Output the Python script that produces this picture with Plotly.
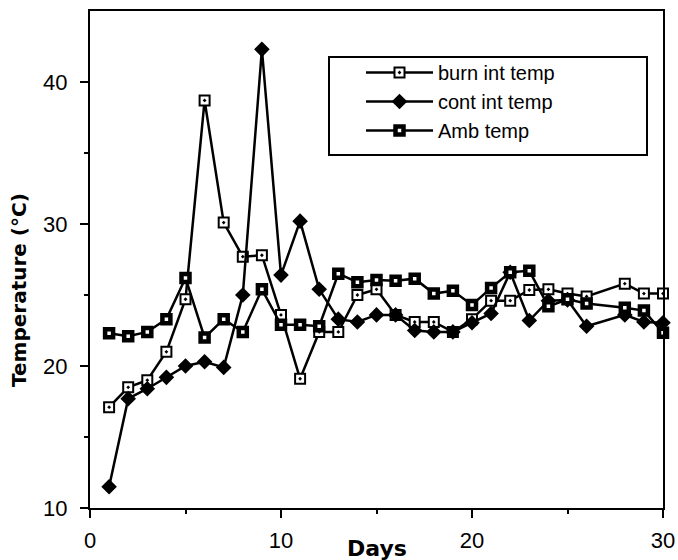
import plotly.graph_objects as go

days = [1, 2, 3, 4, 5, 6, 7, 8, 9, 10, 11, 12, 13, 14, 15, 16, 17, 18, 19, 20,
        21, 22, 23, 24, 25, 26, 28, 29, 30]

burn_int_temp = [17.1, 18.5, 19.0, 21.0, 24.7, 38.7, 30.1, 27.7, 27.8, 23.6,
                 19.1, 22.4, 22.4, 25.0, 25.4, 23.6, 23.1, 23.1, 22.4, 23.3,
                 24.6, 24.6, 25.35, 25.4, 25.1, 24.9, 25.8, 25.1, 25.1]

cont_int_temp = [11.5, 17.7, 18.4, 19.2, 20.0, 20.3, 19.9, 25.0, 42.3, 26.4,
                 30.2, 25.4, 23.3, 23.1, 23.6, 23.6, 22.5, 22.4, 22.4, 23.05,
                 23.7, 26.6, 23.2, 24.6, 24.65, 22.8, 23.6, 23.1, 23.05]

amb_temp = [22.3, 22.1, 22.4, 23.3, 26.2, 22.0, 23.3, 22.4, 25.4, 22.9,
            22.9, 22.8, 26.5, 25.9, 26.05, 26.0, 26.15, 25.1, 25.3, 24.3,
            25.5, 26.6, 26.7, 24.2, 24.7, 24.4, 24.1, 23.9, 22.35]

x_ticks = [0, 10, 20, 30]
y_ticks = [10, 20, 30, 40]

LINE = dict(color="black", width=2.5)

fig = go.Figure()
fig.add_trace(go.Scatter(
    x=days, y=burn_int_temp, name="burn int temp", mode="lines+markers",
    line=LINE, cliponaxis=False,
    marker=dict(symbol="square-dot", size=10, color="white",
                line=dict(color="black", width=2)),
))
fig.add_trace(go.Scatter(
    x=days, y=cont_int_temp, name="cont int temp", mode="lines+markers",
    line=LINE, cliponaxis=False,
    marker=dict(symbol="diamond", size=12, color="black",
                line=dict(color="black", width=0)),
))
fig.add_trace(go.Scatter(
    x=days, y=amb_temp, name="Amb temp", mode="lines+markers",
    line=LINE, cliponaxis=False,
    marker=dict(symbol="square", size=8, color="white",
                line=dict(color="black", width=4.5)),
))

W, H = 678, 560
PL, PR, PT, PB = 90, 663, 11, 508          # plot area in page pixels
L, T, R, B = PL, PT, W - PR, H - PB


def px(xp):
    return (xp - PL) / (PR - PL)


def py(yp):
    return 1 - (yp - PT) / (PB - PT)


fig.update_layout(
    width=W, height=H, autosize=False,
    margin=dict(l=L, r=R, t=T, b=B, pad=0, autoexpand=False),
    paper_bgcolor="white", plot_bgcolor="white",
    font=dict(family="Liberation Sans, Arial, sans-serif", color="black"),
    showlegend=True,
    legend=dict(
        x=px(361), y=py(53), xanchor="left", yanchor="top",
        bgcolor="rgba(0,0,0,0)", borderwidth=0,
        font=dict(size=20, color="black"),
        itemwidth=67,
    ),
    shapes=[dict(
        type="rect", xref="paper", yref="paper",
        x0=px(329), x1=px(647), y0=py(155), y1=py(57),
        line=dict(color="black", width=2), fillcolor="white", layer="below",
    )],
    annotations=[
        dict(text="<b>Days</b>", xref="paper", yref="paper",
             x=px(377), y=py(548), xanchor="center", yanchor="middle",
             showarrow=False,
             font=dict(family="DejaVu Sans", size=22, color="black")),
        dict(text="<b>Temperature (°C)</b>", xref="paper", yref="paper",
             x=px(19), y=py(290), xanchor="center", yanchor="middle",
             textangle=-90, showarrow=False,
             font=dict(family="DejaVu Sans", size=20, color="black")),
    ],
)

fig.update_xaxes(
    range=[0, 30], tickvals=x_ticks, ticktext=[str(v) for v in x_ticks],
    showgrid=False, zeroline=False, automargin=False,
    ticklabeloverflow="allow",
    showline=True, linecolor="black", linewidth=2, mirror=True,
    ticks="outside", ticklen=8, tickwidth=2, tickcolor="black",
    ticklabelstandoff=4,
    tickfont=dict(size=22, color="black"),
    minor=dict(tickvals=[5, 15, 25], ticks="outside", ticklen=4,
               tickwidth=2, tickcolor="black", showgrid=False),
)
fig.update_yaxes(
    range=[10, 45], tickvals=y_ticks, ticktext=[str(v) for v in y_ticks],
    showgrid=False, zeroline=False, automargin=False,
    ticklabeloverflow="allow",
    showline=True, linecolor="black", linewidth=2, mirror=True,
    ticks="outside", ticklen=8, tickwidth=2, tickcolor="black",
    ticklabelstandoff=8,
    tickfont=dict(size=22, color="black"),
    minor=dict(tickvals=[15, 25, 35], ticks="outside", ticklen=4,
               tickwidth=2, tickcolor="black", showgrid=False),
)

# Remove the browser's default 8px body margin so the 678x560 figure
# fills the window exactly.
fig.write_html(
    "out.html",
    config={"responsive": False, "displayModeBar": False},
    post_script=("document.documentElement.style.margin='0';"
                 "document.body.style.margin='0';"
                 "document.documentElement.style.overflow='hidden';"
                 "document.body.style.overflow='hidden';"),
)
